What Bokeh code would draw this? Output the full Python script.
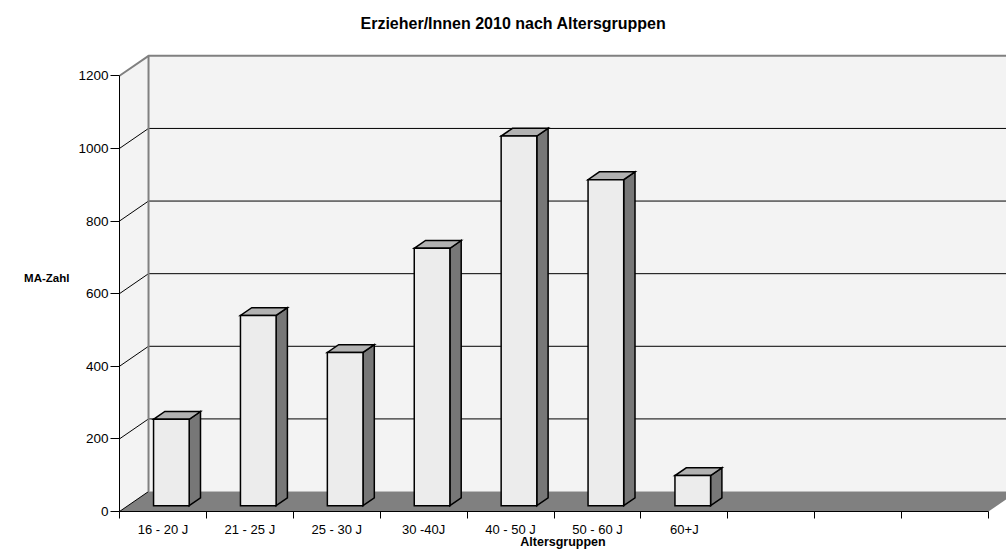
from bokeh.plotting import figure
from bokeh.models import Range1d, FixedTicker
from bokeh.embed import file_html
from bokeh.resources import INLINE

# ---- data ----
categories = ["16 - 20 J", "21 - 25 J", "25 - 30 J", "30 -40J", "40 - 50 J",
              "50 - 60 J", "60+J", "", "", ""]
values = [238, 524, 422, 709, 1018, 898, 83]
y_ticks = [0, 200, 400, 600, 800, 1000, 1200]
title_text = "Erzieher/Innen 2010 nach Altersgruppen"
x_label = "Altersgruppen"
y_label = "MA-Zahl"

# ---- 3D projection parameters (oblique depth offset in data units) ----
n = len(categories)
ymax = y_ticks[-1]
DX = 0.334      # depth offset along x (category units)
DY = 55.0       # depth offset along y (value units)
F1 = 0.29       # front plane of bars as fraction of depth
T = 0.39        # bar depth as fraction of depth
W = 0.41        # bar width (category units)

FONT = "Liberation Sans"

p = figure(width=1006, height=553, output_backend="svg", toolbar_location=None,
           x_range=Range1d(0, 10.207), y_range=Range1d(0, 1286.2),
           min_border_left=119, min_border_right=0, min_border_top=44,
           min_border_bottom=42, title=title_text)
p.background_fill_color = "white"
p.border_fill_color = "white"
p.outline_line_color = None
p.xgrid.grid_line_color = None
p.ygrid.grid_line_color = None

# title
p.title.text_font = FONT
p.title.text_font_size = "16px"
p.title.text_font_style = "bold"
p.title.text_color = "black"
p.title.align = "left"
p.title.offset = 241
p.title.vertical_align = "middle"
p.title.standoff = 24

# left axis
ya = p.yaxis[0]
ya.ticker = FixedTicker(ticks=y_ticks)
ya.bounds = (0, ymax)
ya.major_tick_out = 9
ya.major_tick_in = 0
ya.minor_tick_out = 0
ya.minor_tick_in = 0
ya.major_tick_line_color = "black"
ya.axis_line_color = "black"
ya.major_label_standoff = 2
ya.major_label_text_font = FONT
ya.major_label_text_font_size = "13.5px"
ya.major_label_text_color = "black"
ya.axis_label = y_label
ya.axis_label_orientation = "horizontal"
ya.axis_label_text_font = FONT
ya.axis_label_text_font_size = "11.5px"
ya.axis_label_text_font_style = "bold"
ya.axis_label_text_color = "black"
ya.axis_label_standoff = 6

# bottom axis: labels centred in slots, tick marks at slot boundaries
xa = p.xaxis[0]
xa.ticker = FixedTicker(ticks=[i + 0.5 for i in range(n)],
                        minor_ticks=list(range(n + 1)))
xa.bounds = (0, n)
xa.major_tick_out = 0
xa.major_tick_in = 0
xa.minor_tick_out = 7
xa.minor_tick_in = 0
xa.minor_tick_line_color = "black"
xa.axis_line_color = "black"
xa.major_label_overrides = {i + 0.5: c for i, c in enumerate(categories)}
xa.major_label_standoff = 3
xa.major_label_text_font = FONT
xa.major_label_text_font_size = "13px"
xa.major_label_text_color = "black"
xa.axis_label = x_label
xa.axis_label_text_font = FONT
xa.axis_label_text_font_size = "12.5px"
xa.axis_label_text_font_style = "bold"
xa.axis_label_text_color = "black"
xa.axis_label_standoff = -5

# ---- walls ----
p.quad(left=DX, right=n + DX, bottom=DY, top=ymax + DY,
       fill_color="#f3f3f3", line_color=None)
p.patch([0, 0, DX, DX], [0, ymax, ymax + DY, DY],
        fill_color="#f3f3f3", line_color=None)

# floor
p.patch([0, n, n + DX, DX], [0, 0, DY, DY], fill_color="#808080", line_color=None)

# gridlines on back wall and side wall
gv = y_ticks[1:-1]
p.segment(x0=[DX] * len(gv), y0=[v + DY for v in gv],
          x1=[n + DX] * len(gv), y1=[v + DY for v in gv],
          line_color="black", line_width=1)
sv = y_ticks[:-1]
p.segment(x0=[0] * len(sv), y0=sv, x1=[DX] * len(sv), y1=[v + DY for v in sv],
          line_color="black", line_width=1)

# wall edges (gray)
p.line([0, DX, n + DX], [ymax, ymax + DY, ymax + DY], line_color="#808080", line_width=2)
p.segment(x0=[DX], y0=[DY], x1=[DX], y1=[ymax + DY], line_color="#808080", line_width=2)

# ---- bars ----
ddx, ddy = T * DX, T * DY
lefts = [i + 0.5 - W / 2 + F1 * DX for i in range(len(values))]
rights = [l + W for l in lefts]
bottoms = [F1 * DY] * len(values)
tops = [v + F1 * DY for v in values]

side_xs = [[r, r + ddx, r + ddx, r] for r in rights]
side_ys = [[b, b + ddy, t + ddy, t] for b, t in zip(bottoms, tops)]
top_xs = [[l, r, r + ddx, l + ddx] for l, r in zip(lefts, rights)]
top_ys = [[t, t, t + ddy, t + ddy] for t in tops]

p.patches(side_xs, side_ys, fill_color="#777777", line_color="black",
          line_width=1.5, line_join="miter")
p.patches(top_xs, top_ys, fill_color="#b2b2b2", line_color="black",
          line_width=1.5, line_join="miter")
p.quad(left=lefts, right=rights, bottom=bottoms, top=tops,
       fill_color="#ececec", line_color="black", line_width=1.5, line_join="miter")

open("out.html", "w").write(file_html(p, INLINE))
